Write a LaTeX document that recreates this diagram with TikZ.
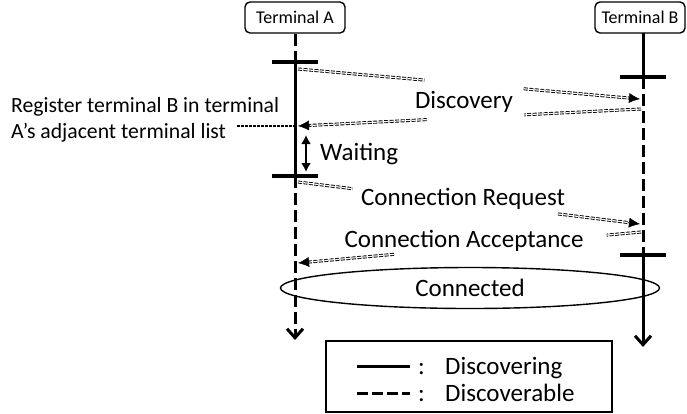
\documentclass[tikz,border=0pt]{standalone}
\usepackage{fontspec}
\setmainfont{Carlito}
\usetikzlibrary{arrows.meta, shapes.geometric, calc}

\begin{document}
\begin{tikzpicture}[x=1pt, y=-1pt,
				   every node/.style={inner sep=0pt, font=\fontsize{25}{30}\selectfont},
				   terminal/.style={draw=black, rounded corners=5pt, line width=1.4pt, minimum height=31pt, font=\fontsize{18}{20}\selectfont},
				   discovering/.style={line width=3pt},
				   discoverable/.style={line width=3pt, dash pattern=on 12pt off 5pt},
				   tickmark/.style={line width=3.5pt},
				   lifeend/.style={-{Straight Barb[length=9pt, width=16pt, line width=3pt]}},
				   msg/.style={double, double distance=1.2pt, line width=0.9pt, dash pattern=on 4pt off 1.5pt},
				   msgtip/.style={line width=0.5pt, -{Latex[length=11pt, width=10pt]}},
				   regline/.style={line width=2.8pt, dash pattern=on 2.5pt off 1.5pt},
				   waitarrow/.style={line width=2.5pt, {Latex[length=9pt, width=10pt]}-{Latex[length=9pt, width=10pt]}}]
\useasboundingbox (0,0) rectangle (687,413);

\node[terminal, minimum width=100pt] (termA) at (295,17.5) {Terminal A};
\node[terminal, minimum width=90pt] (termB) at (640,17.5) {Terminal B};

% lifelines
\coordinate (a1) at (295,62);
\coordinate (a2) at (295,176);
\coordinate (a3) at (295,340);
\coordinate (b0) at (643,33);
\coordinate (b1) at (643,77);
\coordinate (b2) at (643,255);
\coordinate (b3) at (643,347);
\draw[discoverable] (termA.south) -- (a1);
\draw[discovering] (a1) -- (a2);
\draw[discoverable, lifeend] (a2) -- (a3);
\draw[discovering] (b0) -- (b1);
\draw[discoverable] (b1) -- (b2);
\draw[discovering, lifeend] (b2) -- (b3);
\foreach \p in {a1, a2, b1, b2}
	\draw[tickmark] ($(\p)+(-23,0)$) -- ($(\p)+(23,0)$);

% messages
\coordinate (dA1) at (298,69);
\coordinate (dB1) at (640,99);
\coordinate (dB2) at (641,109);
\coordinate (dA2) at (298,126);
\coordinate (rA) at (298,182);
\coordinate (rB) at (640,224);
\coordinate (cB) at (641,232);
\coordinate (cA) at (298,263);
\draw[msg] (dA1) -- ($(dA1)!0.37!(dB1)$);
\draw[msg] ($(dA1)!0.66!(dB1)$) -- ($(dB1)!9pt!(dA1)$);
\draw[msgtip] ($(dB1)!12pt!(dA1)$) -- (dB1);
\draw[msg] (dB2) -- ($(dB2)!0.34!(dA2)$);
\draw[msg] ($(dB2)!0.625!(dA2)$) -- ($(dA2)!9pt!(dB2)$);
\draw[msgtip] ($(dA2)!12pt!(dB2)$) -- (dA2);
\draw[msg] (rA) -- ($(rA)!0.16!(rB)$);
\draw[msg] ($(rA)!0.76!(rB)$) -- ($(rB)!9pt!(rA)$);
\draw[msgtip] ($(rB)!12pt!(rA)$) -- (rB);
\draw[msg] (cB) -- ($(cB)!0.10!(cA)$);
\draw[msg] ($(cB)!0.72!(cA)$) -- ($(cA)!9pt!(cB)$);
\draw[msgtip] ($(cA)!12pt!(cB)$) -- (cA);

\node (discovery) at (464,102) {Discovery};
\node (request) at (463,199) {Connection Request};
\node (accept) at (464,241) {Connection Acceptance};
\node[anchor=west] (waiting) at (320,154) {Waiting};
\coordinate (w1) at (306,135);
\coordinate (w2) at (306,172);
\draw[waitarrow] (w1) -- (w2);

\node[anchor=west, align=left, font=\fontsize{21.7}{26}\selectfont] (register) at (11,120)
	{Register terminal B in terminal\\A’s adjacent terminal list};
\coordinate (reg) at (237,126);
\draw[regline] (reg) -- (reg -| a1);

\node[ellipse, draw=black, line width=1.4pt, minimum width=379pt, minimum height=41pt] (connected) at (470,288) {Connected};

% legend
\node[draw=black, line width=1.4pt, minimum width=286pt, minimum height=71pt] (legend) at (469,376.5) {};
\coordinate (l1) at (357,366);
\coordinate (l2) at (357,393);
\draw[discovering] (l1) -- ++(53,0);
\draw[line width=3pt, dash pattern=on 11pt off 4pt] (l2) -- ++(53,0);
\node[anchor=base west] (colon1) at (418,374) {:};
\node[anchor=base west] (colon2) at (418,401) {:};
\node[anchor=base west] (discovering) at (445,374) {Discovering};
\node[anchor=base west] (discoverable) at (445,401) {Discoverable};
\end{tikzpicture}
\end{document}
